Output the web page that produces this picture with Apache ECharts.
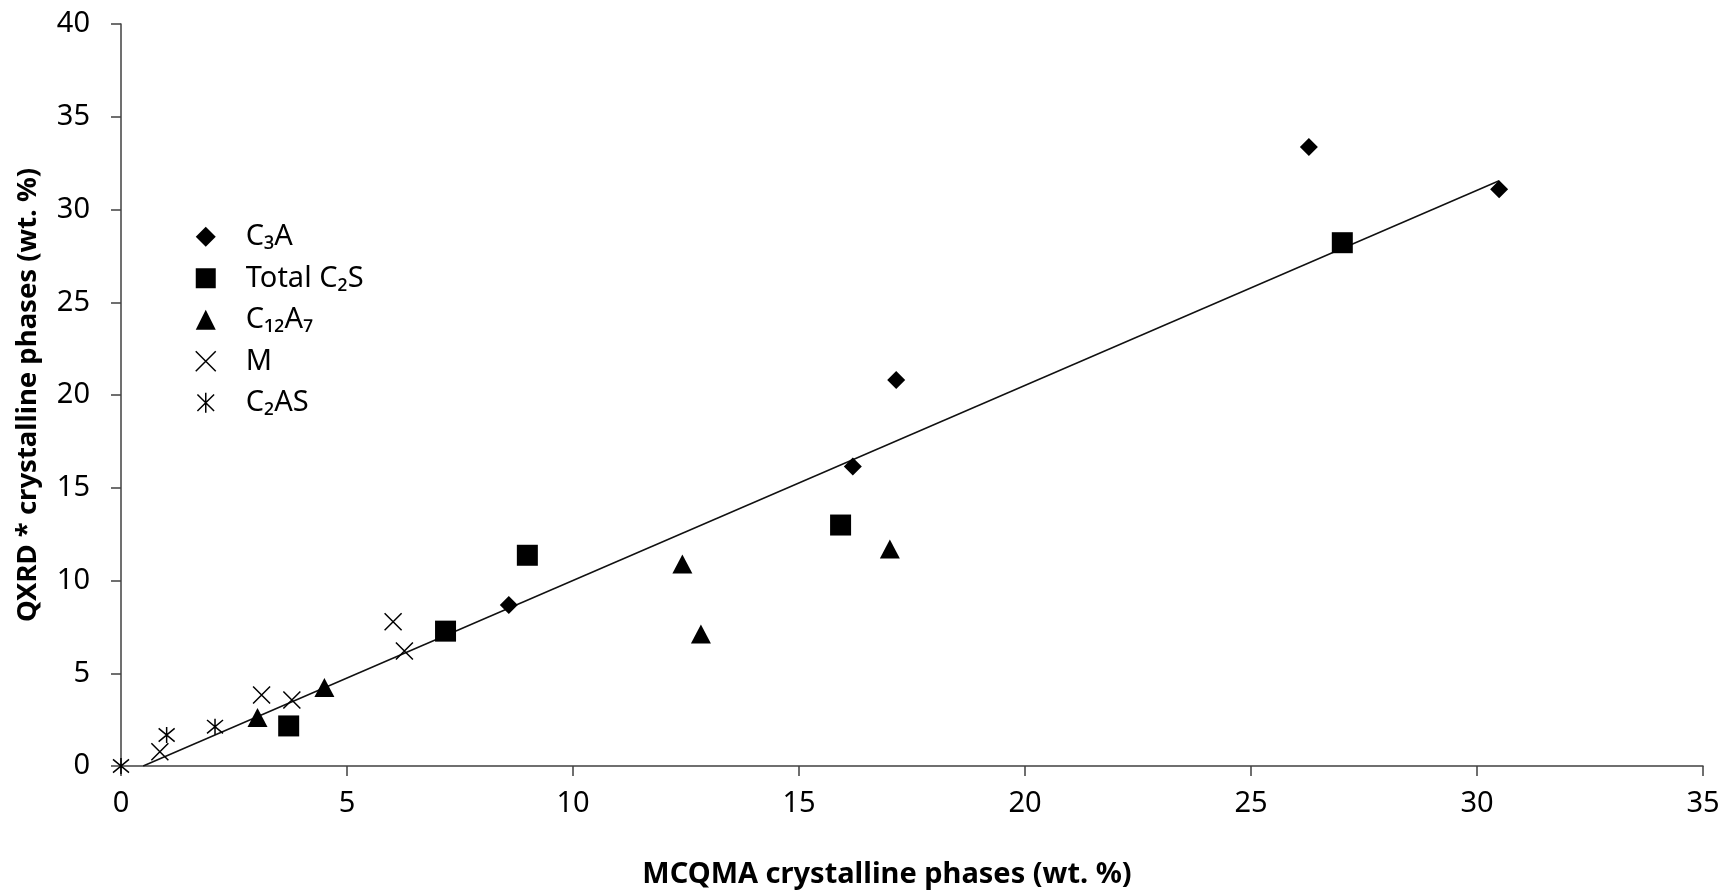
<!DOCTYPE html>
<html>
<head>
<meta charset="utf-8">
<style>
  html, body { margin: 0; padding: 0; background: #fff; }
  #chart { width: 1725px; height: 890px; }
</style>
<script src="https://cdn.jsdelivr.net/npm/echarts@6/dist/echarts.min.js"></script>
</head>
<body>
<div id="chart"></div>
<script>
// ---- data ----
const seriesNames = ['C₃A', 'Total C₂S', 'C₁₂A₇', 'M', 'C₂AS'];
const c3a     = [[8.58, 8.68], [16.19, 16.14], [17.15, 20.81], [26.28, 33.37], [30.49, 31.09]];
const totalC2S = [[3.71, 2.16], [7.18, 7.27], [8.99, 11.36], [15.92, 12.99], [27.02, 28.21]];
const c12a7   = [[3.02, 2.61], [4.50, 4.23], [12.42, 10.89], [12.83, 7.12], [17.01, 11.70]];
const mPhase  = [[0.86, 0.77], [3.11, 3.83], [3.78, 3.56], [6.02, 7.78], [6.27, 6.20]];
const c2as    = [[0, 0], [1.01, 1.67], [2.08, 2.12]];
const trendLine = [[0.49, 0], [30.49, 31.55]];
const xTicks = [0, 5, 10, 15, 20, 25, 30, 35];
const yTicks = [0, 5, 10, 15, 20, 25, 30, 35, 40];
const xTitle = 'MCQMA crystalline phases (wt. %)';
const yTitle = 'QXRD * crystalline phases (wt. %)';

const FONT = '"Noto Sans", Lato, sans-serif';
const crossPath = 'path://M0,0L10,10M10,0L0,10';
const starPath = 'path://M0,0L10,10M10,0L0,10M5,-1L5,11';

const chart = echarts.init(document.getElementById('chart'));
const axisLineStyle = { color: '#404040', width: 1.5 };
const strokeOnly = { color: 'rgba(0,0,0,0)', borderColor: '#000', borderWidth: 1.5, opacity: 1 };

chart.setOption({
  animation: false,
  backgroundColor: '#fff',
  grid: { left: 121, right: 22, top: 24, bottom: 124, containLabel: false, outerBoundsMode: 'none' },
  legend: {
    orient: 'vertical',
    left: 190,
    top: 217,
    itemWidth: 20,
    itemHeight: 20,
    itemGap: 12,
    selectedMode: false,
    formatter: name => '{pad|}' + name,
    textStyle: {
      fontFamily: FONT, fontSize: 29, color: '#000', lineHeight: 29.5,
      rich: { pad: { width: 25 } }
    },
    data: [
      { name: seriesNames[0] },
      { name: seriesNames[1] },
      { name: seriesNames[2] },
      { name: seriesNames[3], itemStyle: strokeOnly },
      { name: seriesNames[4], itemStyle: strokeOnly }
    ]
  },
  xAxis: {
    type: 'value', min: xTicks[0], max: xTicks[xTicks.length - 1], interval: 5,
    name: xTitle, nameLocation: 'middle', nameGap: 94,
    nameTextStyle: { fontFamily: FONT, fontSize: 29, fontWeight: 'bold', color: '#000', padding: [0, 50, 0, 0] },
    axisLine: { show: true, lineStyle: axisLineStyle },
    axisTick: { show: true, length: 10, lineStyle: axisLineStyle },
    axisLabel: { fontFamily: FONT, fontSize: 29, color: '#000', margin: 23 },
    splitLine: { show: false }
  },
  yAxis: {
    type: 'value', min: yTicks[0], max: yTicks[yTicks.length - 1], interval: 5,
    name: yTitle, nameLocation: 'middle', nameGap: 79, nameRotate: 90,
    nameTextStyle: { fontFamily: FONT, fontSize: 27.5, fontWeight: 'bold', color: '#000' },
    axisLine: { show: true, lineStyle: axisLineStyle },
    axisTick: { show: true, length: 10, lineStyle: axisLineStyle },
    axisLabel: { fontFamily: FONT, fontSize: 29, color: '#000', margin: 31 },
    splitLine: { show: false }
  },
  series: [
    {
      name: 'trend', type: 'line', data: trendLine, symbol: 'none', z: 1,
      lineStyle: { color: '#111', width: 1.5 }, silent: true
    },
    {
      name: seriesNames[0], type: 'scatter', data: c3a, symbol: 'diamond', symbolSize: 18, z: 3,
      itemStyle: { color: '#000', opacity: 1 }
    },
    {
      name: seriesNames[1], type: 'scatter', data: totalC2S, symbol: 'rect', symbolSize: 21, z: 3,
      itemStyle: { color: '#000', opacity: 1 }
    },
    {
      name: seriesNames[2], type: 'scatter', data: c12a7, symbol: 'triangle', symbolSize: [20, 19], z: 3,
      itemStyle: { color: '#000', opacity: 1 }
    },
    {
      name: seriesNames[3], type: 'scatter', data: mPhase, symbol: crossPath, symbolSize: 17, z: 3,
      itemStyle: strokeOnly
    },
    {
      name: seriesNames[4], type: 'scatter', data: c2as, symbol: starPath, symbolSize: 16, z: 3,
      itemStyle: strokeOnly
    }
  ]
});
</script>
</body>
</html>
